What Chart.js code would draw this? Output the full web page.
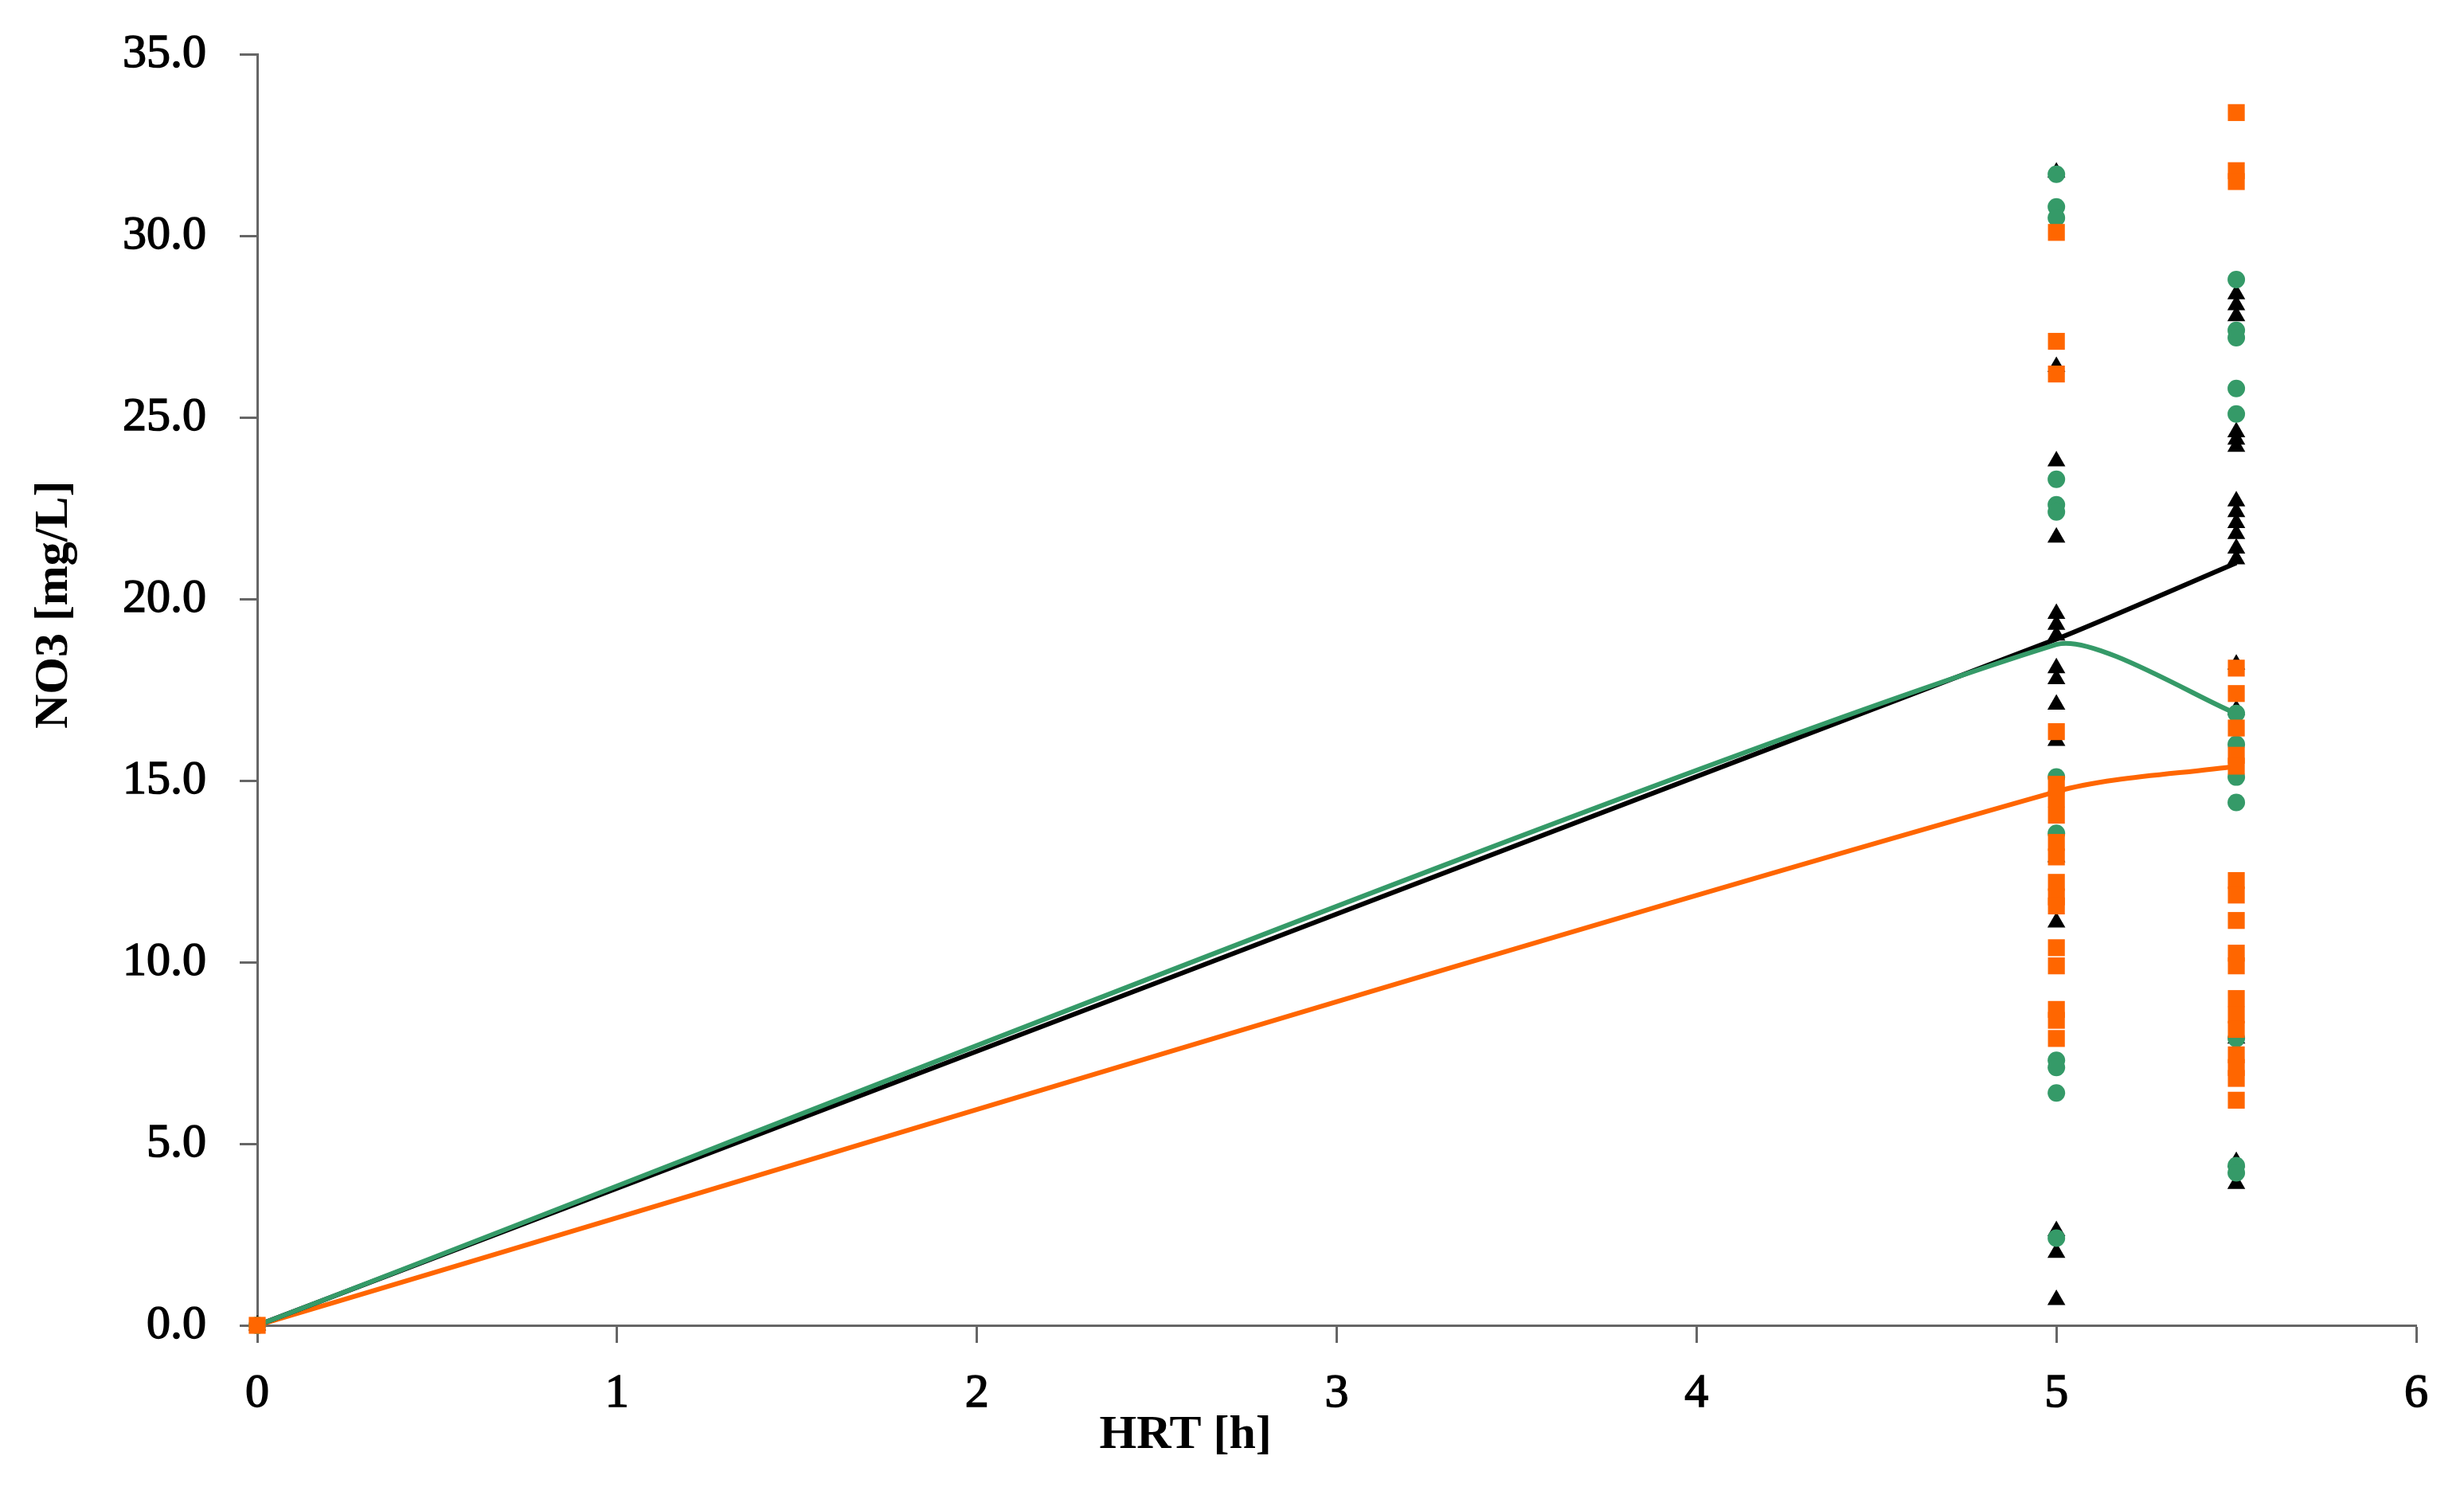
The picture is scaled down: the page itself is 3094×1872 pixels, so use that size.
<!DOCTYPE html>
<html>
<head>
<meta charset="utf-8">
<script src="https://cdn.jsdelivr.net/npm/chart.js@4.4.1/dist/chart.umd.min.js"></script>
<style>
  html, body { margin: 0; padding: 0; background: #fff; }
  #wrap { width: 3094px; height: 1872px; }
</style>
</head>
<body>
<div id="wrap"><canvas id="no3Chart"></canvas></div>
<script>
// HRT [h] values for the mean lines
const lineHrt = [0, 5, 5.5];
// mean NO3 values (lines)
const blackMean = [0, 18.9, 21.0];
const greenMean = [0, 18.75, 16.85];
const orangeMean = [0, 14.7, 15.4];

// single measurements, x = HRT, y = NO3
const blackX = [0, 5, 5, 5, 5, 5, 5, 5, 5, 5, 5, 5, 5, 5, 5, 5, 5,
  5.5, 5.5, 5.5, 5.5, 5.5, 5.5, 5.5, 5.5, 5.5, 5.5, 5.5, 5.5, 5.5, 5.5, 5.5, 5.5, 5.5, 5.5];
const blackY = [0, 31.75, 26.4, 23.8, 21.7, 19.6, 19.3, 19.0, 18.1, 17.8, 17.1, 16.1, 12.9, 11.1, 2.6, 2.0, 0.7,
  28.4, 28.1, 27.8, 24.6, 24.4, 24.2, 22.7, 22.4, 22.1, 21.8, 21.4, 21.1, 18.2, 16.95, 7.9, 4.5, 3.9];

const greenX = [0, 5, 5, 5, 5, 5, 5, 5, 5, 5, 5, 5, 5,
  5.5, 5.5, 5.5, 5.5, 5.5, 5.5, 5.5, 5.5, 5.5, 5.5, 5.5, 5.5];
const greenY = [0, 31.7, 30.8, 30.5, 23.3, 22.6, 22.4, 15.1, 13.55, 7.3, 7.1, 6.4, 2.4,
  28.8, 27.4, 27.2, 25.8, 25.1, 16.85, 16.0, 15.1, 14.4, 7.9, 4.4, 4.2];

const orangeX = [0, 5, 5, 5, 5, 5, 5, 5, 5, 5, 5, 5, 5, 5, 5, 5, 5, 5,
  5.5, 5.5, 5.5, 5.5, 5.5, 5.5, 5.5, 5.5, 5.5, 5.5, 5.5, 5.5, 5.5, 5.5, 5.5, 5.5, 5.5, 5.5, 5.5, 5.5, 5.5];
const orangeY = [0, 30.1, 27.1, 26.2, 16.35, 14.9, 14.5, 14.05, 13.3, 12.9, 12.2, 11.8, 11.55, 10.4, 9.9, 8.7, 8.4, 7.9,
  33.4, 31.8, 31.5, 18.1, 17.4, 16.45, 15.7, 15.4, 12.25, 11.85, 11.15, 10.25, 9.9, 9.0, 8.55, 8.15, 7.45, 7.1, 6.8, 6.2];

const yTicks = [0, 5, 10, 15, 20, 25, 30, 35];
const xTicks = [0, 1, 2, 3, 4, 5, 6];

const BLACK = "#000000";
const GREEN = "#359A68";
const ORANGE = "#FF6600";
const AXIS = "#666666";

function pairs(xs, ys) {
  return xs.map((x, i) => ({ x: x, y: ys[i] }));
}

// draws the two axis titles where the original has them
const axisTitles = {
  id: "axisTitles",
  afterDraw(chart) {
    const c = chart.ctx;
    const area = chart.chartArea;
    c.save();
    c.fillStyle = "#000";
    c.font = "bold 60px 'Liberation Serif', serif";
    c.textAlign = "center";
    c.textBaseline = "alphabetic";
    c.fillText("HRT [h]", area.left + (area.right - area.left) * 0.430, 1818);
    c.translate(84, area.top + (area.bottom - area.top) * 0.433);
    c.rotate(-Math.PI / 2);
    c.fillText("NO3 [mg/L]", 0, 0);
    c.restore();
  }
};

const xFont = { family: "'Liberation Serif', serif", size: 60 };
// tighter line height keeps the top of the y axis where the original has it
const yFont = { family: "'Liberation Serif', serif", size: 60, lineHeight: 0.88 };

new Chart(document.getElementById("no3Chart").getContext("2d"), {
  type: "scatter",
  data: {
    datasets: [
      { label: "orange", data: pairs(orangeX, orangeY), pointStyle: "rect", pointRadius: 15,
        backgroundColor: ORANGE, borderColor: ORANGE, borderWidth: 0, clip: false },
      { label: "green", data: pairs(greenX, greenY), pointStyle: "circle", pointRadius: 11,
        backgroundColor: GREEN, borderColor: GREEN, borderWidth: 0, clip: false },
      { label: "black", data: pairs(blackX, blackY), pointStyle: "triangle", pointRadius: 13,
        backgroundColor: BLACK, borderColor: BLACK, borderWidth: 0, clip: false },
      { label: "green mean", data: pairs(lineHrt, greenMean), showLine: true, pointRadius: 0,
        borderColor: GREEN, borderWidth: 6, tension: 0.2 },
      { label: "black mean", data: pairs(lineHrt, blackMean), showLine: true, pointRadius: 0,
        borderColor: BLACK, borderWidth: 6, tension: 0.2 },
      { label: "orange mean", data: pairs(lineHrt, orangeMean), showLine: true, pointRadius: 0,
        borderColor: ORANGE, borderWidth: 6, tension: 0.3 }
    ]
  },
  options: {
    responsive: true,
    maintainAspectRatio: false,
    devicePixelRatio: 1,
    animation: false,
    layout: { padding: { top: 40, right: 60, left: 0, bottom: 0 } },
    plugins: {
      legend: { display: false },
      tooltip: { enabled: false }
    },
    scales: {
      x: {
        type: "linear",
        min: 0,
        max: 6,
        afterFit(scale) { scale.height = 208; },
        afterBuildTicks(scale) { scale.ticks = xTicks.map(v => ({ value: v })); },
        ticks: { font: xFont, color: "#000", padding: 28, callback: v => String(v), maxRotation: 0,
          textStrokeColor: "#000", textStrokeWidth: 1.5 },
        grid: { drawOnChartArea: false, drawTicks: true, tickLength: 22, tickWidth: 3, tickColor: AXIS },
        border: { display: true, color: AXIS, width: 3 }
      },
      y: {
        min: 0,
        max: 35,
        afterFit(scale) { scale.width = 323; },
        afterBuildTicks(scale) { scale.ticks = yTicks.map(v => ({ value: v })); },
        ticks: { font: yFont, color: "#000", padding: 42, callback: v => Number(v).toFixed(1),
          textStrokeColor: "#000", textStrokeWidth: 1.5 },
        grid: { drawOnChartArea: false, drawTicks: true, tickLength: 22, tickWidth: 3, tickColor: AXIS },
        border: { display: true, color: AXIS, width: 3 }
      }
    }
  },
  plugins: [axisTitles]
});
</script>
</body>
</html>
